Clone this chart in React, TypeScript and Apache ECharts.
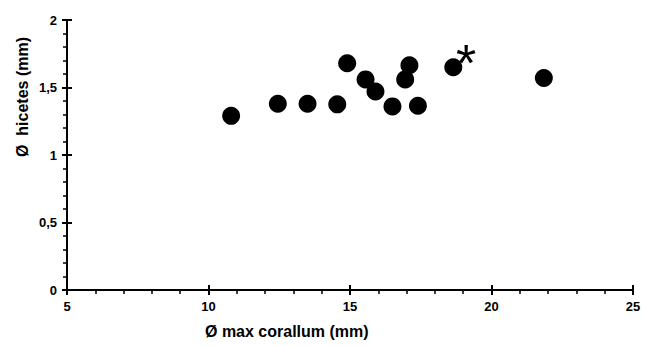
import React, { useEffect, useRef } from "react";
import * as echarts from "echarts";

const xValues = [10.8, 12.45, 13.5, 14.55, 14.9, 15.55, 15.9, 16.5, 17.1, 16.95, 17.4, 18.65, 21.85];
const yValues = [1.29, 1.38, 1.38, 1.375, 1.68, 1.56, 1.47, 1.36, 1.665, 1.56, 1.365, 1.65, 1.57];
const starPoint = [19.1, 1.77];
const xTicks = [5, 10, 15, 20, 25];
const yTicks = [0, 0.5, 1, 1.5, 2];
const xTitle = "Ø max corallum (mm)";
const yTitle = "Ø  hicetes (mm)";

export default function App() {
  const ref = useRef<HTMLDivElement>(null);
  useEffect(() => {
    if (!ref.current) return;
    const chart = echarts.init(ref.current, null, { renderer: "svg" });
    const font = "'Liberation Sans', Arial, sans-serif";
    const axisLine = { show: true, lineStyle: { color: "#000", width: 2 } };
    const fmtY = (v: number) => String(v).replace(".", ",");
    chart.setOption({
      animation: false,
      backgroundColor: "#fff",
      grid: { left: 67, right: 12, top: 20, bottom: 57 },
      xAxis: [
        {
          type: "value", min: xTicks[0], max: xTicks[xTicks.length - 1], interval: 5,
          axisLine, splitLine: { show: false },
          axisTick: { show: true, length: 5, lineStyle: { color: "#000", width: 2 } },
          minorTick: { show: true, splitNumber: 5, length: 4, lineStyle: { color: "#000", width: 1.5 } },
          axisLabel: { color: "#000", fontFamily: font, fontWeight: "bold", fontSize: 13, margin: 10 },
        },
        {
          type: "value", min: xTicks[0], max: xTicks[xTicks.length - 1], interval: 5, position: "bottom",
          axisLine: { show: false }, splitLine: { show: false }, axisLabel: { show: false },
          axisTick: { show: true, inside: true, length: 5, lineStyle: { color: "#000", width: 2 } },
        },
      ],
      yAxis: [
        {
          type: "value", min: yTicks[0], max: yTicks[yTicks.length - 1], interval: 0.5,
          axisLine, splitLine: { show: false },
          axisTick: { show: true, length: 5, lineStyle: { color: "#000", width: 2 } },
          minorTick: { show: true, splitNumber: 5, length: 4, lineStyle: { color: "#000", width: 1.5 } },
          axisLabel: { color: "#000", fontFamily: font, fontWeight: "bold", fontSize: 13, margin: 10, formatter: fmtY },
        },
        {
          type: "value", min: yTicks[0], max: yTicks[yTicks.length - 1], interval: 0.5, position: "left",
          axisLine: { show: false }, splitLine: { show: false }, axisLabel: { show: false },
          axisTick: { show: true, inside: true, length: 5, lineStyle: { color: "#000", width: 2 } },
        },
      ],
      series: [
        {
          type: "scatter",
          data: xValues.map((x, i) => [x, yValues[i]]),
          symbol: "circle",
          symbolSize: 18,
          itemStyle: { color: "#000", opacity: 1 },
        },
        {
          type: "scatter",
          data: [starPoint],
          symbolSize: 1,
          itemStyle: { color: "#000", opacity: 1 },
          label: {
            show: true, position: "inside", formatter: "*", color: "#000", opacity: 1,
            fontSize: 52, fontWeight: "normal", fontFamily: font, offset: [0, 12],
          },
        },
      ],
      graphic: [
        {
          type: "text", left: 300 - 95, top: 323,
          style: { text: xTitle, fontFamily: font, fontWeight: "bold", fontSize: 16, fill: "#000" },
        },
        {
          type: "text", x: 22, y: 97, rotation: Math.PI / 2,
          style: {
            text: yTitle, fontFamily: font, fontWeight: "bold", fontSize: 16, fill: "#000",
            align: "center", verticalAlign: "middle",
          },
        },
      ],
    });
    return () => chart.dispose();
  }, []);
  return <div ref={ref} style={{ width: 645, height: 347, position: "absolute", left: 0, top: 0 }} />;
}
